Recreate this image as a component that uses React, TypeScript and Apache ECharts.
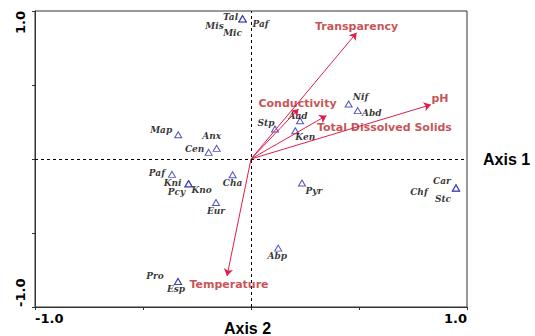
import React, { useEffect, useRef } from "react";
import * as echarts from "echarts";

const speciesNames = ["Tal", "Mis", "Mic", "Paf", "Map", "Anx", "Cen", "Nif", "Abd", "Aad", "Stp", "Ken", "Paf", "Kni", "Kno", "Pcy", "Cha", "Eur", "Pro", "Esp", "Pyr", "Abp", "Car", "Chf", "Stc"];
const speciesAxis1 = [-0.039, -0.039, -0.039, -0.039, -0.337, -0.159, -0.196, 0.452, 0.494, 0.227, 0.111, 0.205, -0.366, -0.289, -0.289, -0.289, -0.085, -0.162, -0.338, -0.338, 0.236, 0.126, 0.949, 0.949, 0.949];
const speciesAxis2 = [0.947, 0.947, 0.947, 0.947, 0.164, 0.072, 0.045, 0.372, 0.327, 0.259, 0.203, 0.191, -0.104, -0.167, -0.167, -0.167, -0.106, -0.294, -0.828, -0.828, -0.162, -0.602, -0.196, -0.196, -0.196];

const envNames = ["Transparency", "Conductivity", "Total Dissolved Solids", "pH", "Temperature"];
const envAxis1 = [0.489, 0.22, 0.349, 0.833, -0.111];
const envAxis2 = [0.853, 0.338, 0.293, 0.367, -0.79];

const axisMin = -1;
const axisMax = 1;
const axisInterval = 0.5;

// label placement (styling only, pixels)
const speciesLabelOffsets: [number, number][] = [
  [-12, -2], [-28, 7], [-10, 14], [18, 5], [-17, -5], [-5, -12], [-14, -3], [12, -7], [14, 2], [-2, -5], [-9, -6], [10, 6],
  [-15, -1], [-16, -1], [13, 6], [-12, 8], [0, 8], [0, 8], [-23, -6], [-2, 7], [12, 8], [-1, 8], [-14, -7], [-37, 4], [-13, 11],
];
const envLabelOffsets: [number, number][] = [[0, -6], [-1, -5], [58, 12], [9, -6], [2, 9]];

const ARROW = "#e11d4c";
const ENV_TEXT = "#b8262a";
const TRI = "#2a2aa8";

export default function App() {
  const ref = useRef<HTMLDivElement>(null);
  useEffect(() => {
    if (!ref.current) return;
    const chart = echarts.init(ref.current, null, { renderer: "svg" });
    const fmt = (v: number) => (v === 1 ? "1.0" : v === -1 ? "-1.0" : "");
    chart.setOption({
      animation: false,
      grid: {
        left: 35, right: 68, top: 11, bottom: 29, show: true, borderColor: "#333", borderWidth: 1,
        backgroundColor: "transparent", containLabel: false, outerBoundsMode: "none",
      },
      xAxis: {
        type: "value", min: axisMin, max: axisMax, interval: axisInterval,
        axisLine: { show: true, onZero: false, lineStyle: { color: "#333", width: 1 } },
        axisTick: { show: true, length: 3, lineStyle: { color: "#333" } },
        splitLine: { show: false },
        axisLabel: {
          formatter: fmt, margin: 5, color: "#000", fontFamily: "DejaVu Sans", fontWeight: "bold", fontSize: 13,
          alignMinLabel: "left", alignMaxLabel: "right", showMinLabel: true, showMaxLabel: true,
        },
        name: "Axis 2", nameLocation: "middle", nameGap: 13, nameMoveOverlap: false,
        nameTextStyle: { color: "#000", fontFamily: "Liberation Sans", fontWeight: "bold", fontSize: 16, padding: [0, 7, 0, 0] },
      },
      yAxis: {
        type: "value", min: axisMin, max: axisMax, interval: axisInterval,
        axisLine: { show: true, onZero: false, lineStyle: { color: "#333", width: 1 } },
        axisTick: { show: true, length: 3, lineStyle: { color: "#333" } },
        splitLine: { show: false },
        axisLabel: {
          formatter: fmt, rotate: 90, margin: 8, color: "#000", fontFamily: "DejaVu Sans", fontWeight: "bold", fontSize: 13,
          alignMinLabel: "left", alignMaxLabel: "right", showMinLabel: true, showMaxLabel: true,
        },
      },
      series: [
        {
          type: "scatter",
          silent: true,
          symbol: "triangle",
          symbolSize: [7, 6],
          itemStyle: { color: "#fff", borderColor: TRI, borderWidth: 1 },
          label: {
            show: true, position: "inside", formatter: (p: any) => p.data.name,
            color: "#000", fontFamily: "DejaVu Serif", fontStyle: "italic", fontWeight: "bold", fontSize: 9,
          },
          data: speciesNames.map((n, i) => ({
            name: n,
            value: [speciesAxis1[i], speciesAxis2[i]],
            label: { offset: speciesLabelOffsets[i] },
          })),
          markLine: {
            silent: true,
            symbol: "none",
            lineStyle: { color: "#000", type: [3, 3], width: 1 },
            label: { show: false },
            data: [
              { xAxis: 0, label: { show: false } },
              {
                yAxis: 0,
                label: {
                  show: true, position: "end", formatter: "Axis 1", distance: 16,
                  color: "#000", fontFamily: "Liberation Sans", fontWeight: "bold", fontSize: 16,
                },
              },
            ],
          },
          z: 3,
        },
        {
          type: "lines",
          coordinateSystem: "cartesian2d",
          silent: true,
          symbol: ["none", "arrow"],
          symbolSize: 7,
          lineStyle: { color: ARROW, width: 1, opacity: 1 },
          data: envNames.map((n, i) => ({ name: n, coords: [[0, 0], [envAxis1[i], envAxis2[i]]] })),
          z: 4,
        },
        {
          type: "scatter",
          silent: true,
          symbol: "circle",
          symbolSize: 1,
          itemStyle: { color: "transparent" },
          label: {
            show: true, position: "inside", formatter: (p: any) => p.data.name,
            color: ENV_TEXT, fontFamily: "DejaVu Sans", fontWeight: "bold", fontSize: 11,
          },
          data: envNames.map((n, i) => ({
            name: n,
            value: [envAxis1[i], envAxis2[i]],
            label: { offset: envLabelOffsets[i] },
          })),
          z: 5,
        },
      ],
    });
    return () => chart.dispose();
  }, []);
  return <div ref={ref} style={{ width: 535, height: 336, position: "absolute", left: 0, top: 0, background: "#fff" }} />;
}
